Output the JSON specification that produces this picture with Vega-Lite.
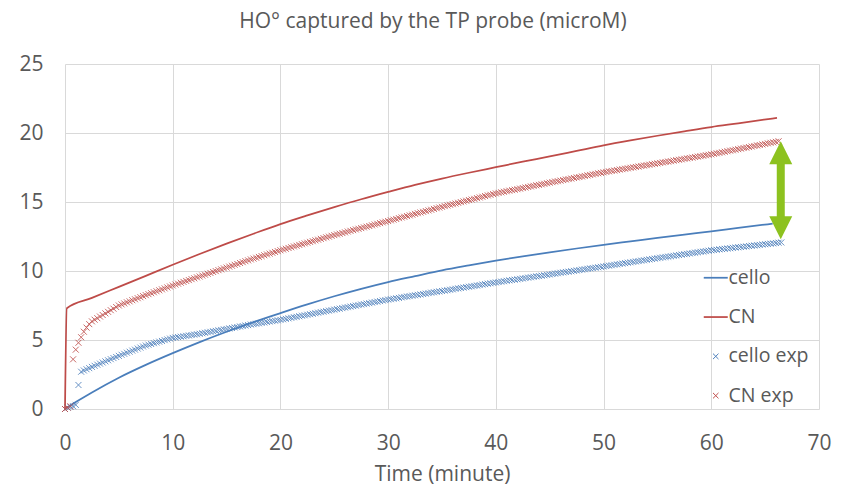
{
"$schema":"https://vega.github.io/schema/vega-lite/v6.json",
"width":754,"height":345,
"autosize":{"type":"none"},
"padding":{"left":65,"top":64,"right":27,"bottom":77},
"background":"white",
"title":{"text":"HO° captured by the TP probe (microM)","font":"Open Sans","fontSize":21,"fontWeight":"normal","color":"#595959","anchor":"middle","dx":-9,"offset":21},
"config":{"view":{"stroke":null},"font":"Open Sans",
"axis":{"domain":false,"ticks":false,"tickSize":0,"gridColor":"#d9d9d9","gridWidth":1,"labelColor":"#595959","labelFont":"Open Sans","labelFontSize":21,"titleFont":"Open Sans","titleFontSize":21,"titleColor":"#595959","titleFontWeight":"normal"}},
"datasets":{
"lines":[
{"t":0,"k":"c","v":0},{"t":1,"k":"c","v":0.5},{"t":2.5,"k":"c","v":1.2},{"t":5,"k":"c","v":2.27},{"t":7.5,"k":"c","v":3.2},{"t":10,"k":"c","v":4.05},{"t":12.5,"k":"c","v":4.85},{"t":15,"k":"c","v":5.6},{"t":17.5,"k":"c","v":6.3},{"t":20,"k":"c","v":6.95},{"t":22.5,"k":"c","v":7.58},{"t":25,"k":"c","v":8.17},{"t":27.5,"k":"c","v":8.71},{"t":30,"k":"c","v":9.2},{"t":32.5,"k":"c","v":9.63},{"t":35,"k":"c","v":10.05},{"t":37.5,"k":"c","v":10.41},{"t":40,"k":"c","v":10.75},{"t":42.5,"k":"c","v":11.06},{"t":45,"k":"c","v":11.35},{"t":47.5,"k":"c","v":11.63},{"t":50,"k":"c","v":11.9},{"t":52.5,"k":"c","v":12.15},{"t":55,"k":"c","v":12.4},{"t":57.5,"k":"c","v":12.64},{"t":60,"k":"c","v":12.87},{"t":62.5,"k":"c","v":13.12},{"t":65.7,"k":"c","v":13.43},
{"t":0,"k":"n","v":0},{"t":0.17,"k":"n","v":7.3},{"t":2.5,"k":"n","v":8.05},{"t":5,"k":"n","v":8.85},{"t":7.5,"k":"n","v":9.65},{"t":10,"k":"n","v":10.45},{"t":12.5,"k":"n","v":11.23},{"t":15,"k":"n","v":11.98},{"t":17.5,"k":"n","v":12.7},{"t":20,"k":"n","v":13.4},{"t":22.5,"k":"n","v":14.03},{"t":25,"k":"n","v":14.63},{"t":27.5,"k":"n","v":15.2},{"t":30,"k":"n","v":15.73},{"t":32.5,"k":"n","v":16.24},{"t":35,"k":"n","v":16.7},{"t":37.5,"k":"n","v":17.12},{"t":40,"k":"n","v":17.52},{"t":42.5,"k":"n","v":17.92},{"t":45,"k":"n","v":18.3},{"t":47.5,"k":"n","v":18.7},{"t":50,"k":"n","v":19.1},{"t":52.5,"k":"n","v":19.46},{"t":55,"k":"n","v":19.8},{"t":57.5,"k":"n","v":20.12},{"t":60,"k":"n","v":20.43},{"t":62.5,"k":"n","v":20.7},{"t":66.1,"k":"n","v":21.1}
],
"exp":[
{"t":0,"a":0,"b":0},{"t":0.25,"a":0.1,"b":0.1},{"t":0.5,"a":0.15,"b":0.2},{"t":0.75,"a":0.2,"b":3.6},{"t":1,"a":0.3,"b":4.3},{"t":1.25,"a":1.74,"b":4.8},{"t":1.5,"a":2.7,"b":5.2},{"t":1.75,"a":2.79,"b":5.6},{"t":2,"a":2.88,"b":5.9},{"t":2.25,"a":2.96,"b":6.15},{"t":2.5,"a":3.05,"b":6.35},{"t":2.75,"a":3.13,"b":6.47},{"t":3,"a":3.21,"b":6.58},{"t":3.25,"a":3.29,"b":6.7},{"t":3.5,"a":3.37,"b":6.81},{"t":3.75,"a":3.45,"b":6.93},{"t":4,"a":3.53,"b":7.04},{"t":4.25,"a":3.61,"b":7.16},{"t":4.5,"a":3.69,"b":7.27},{"t":4.75,"a":3.77,"b":7.39},{"t":5,"a":3.85,"b":7.5},
{"t":5.25,"a":3.93,"b":7.58},{"t":5.5,"a":4.0,"b":7.65},{"t":5.75,"a":4.08,"b":7.73},{"t":6,"a":4.15,"b":7.8},{"t":6.25,"a":4.23,"b":7.88},{"t":6.5,"a":4.3,"b":7.95},{"t":6.75,"a":4.38,"b":8.03},{"t":7,"a":4.45,"b":8.1},{"t":7.25,"a":4.53,"b":8.18},{"t":7.5,"a":4.6,"b":8.25},{"t":7.75,"a":4.66,"b":8.32},{"t":8,"a":4.71,"b":8.39},{"t":8.25,"a":4.77,"b":8.46},{"t":8.5,"a":4.82,"b":8.53},{"t":8.75,"a":4.88,"b":8.6},{"t":9,"a":4.93,"b":8.67},{"t":9.25,"a":4.99,"b":8.74},{"t":9.5,"a":5.04,"b":8.81},{"t":9.75,"a":5.1,"b":8.88},{"t":10,"a":5.15,"b":8.95},
{"t":10.25,"a":5.18,"b":9.02},{"t":10.5,"a":5.21,"b":9.08},{"t":10.75,"a":5.24,"b":9.15},{"t":11,"a":5.27,"b":9.21},{"t":11.25,"a":5.3,"b":9.28},{"t":11.5,"a":5.33,"b":9.34},{"t":11.75,"a":5.36,"b":9.41},{"t":12,"a":5.39,"b":9.47},{"t":12.25,"a":5.42,"b":9.54},{"t":12.5,"a":5.45,"b":9.6},{"t":12.75,"a":5.49,"b":9.67},{"t":13,"a":5.52,"b":9.73},{"t":13.25,"a":5.56,"b":9.8},{"t":13.5,"a":5.59,"b":9.86},{"t":13.75,"a":5.63,"b":9.93},{"t":14,"a":5.66,"b":9.99},{"t":14.25,"a":5.7,"b":10.06},{"t":14.5,"a":5.73,"b":10.12},{"t":14.75,"a":5.77,"b":10.19},{"t":15,"a":5.8,"b":10.25},
{"t":15.25,"a":5.84,"b":10.32},{"t":15.5,"a":5.87,"b":10.38},{"t":15.75,"a":5.91,"b":10.45},{"t":16,"a":5.94,"b":10.51},{"t":16.25,"a":5.98,"b":10.58},{"t":16.5,"a":6.01,"b":10.64},{"t":16.75,"a":6.05,"b":10.71},{"t":17,"a":6.08,"b":10.77},{"t":17.25,"a":6.12,"b":10.84},{"t":17.5,"a":6.15,"b":10.9},{"t":17.75,"a":6.18,"b":10.96},{"t":18,"a":6.21,"b":11.02},{"t":18.25,"a":6.24,"b":11.08},{"t":18.5,"a":6.27,"b":11.14},{"t":18.75,"a":6.31,"b":11.2},{"t":19,"a":6.34,"b":11.26},{"t":19.25,"a":6.37,"b":11.32},{"t":19.5,"a":6.4,"b":11.38},{"t":19.75,"a":6.43,"b":11.44},{"t":20,"a":6.46,"b":11.5},
{"t":20.25,"a":6.5,"b":11.56},{"t":20.5,"a":6.53,"b":11.61},{"t":20.75,"a":6.57,"b":11.67},{"t":21,"a":6.61,"b":11.72},{"t":21.25,"a":6.65,"b":11.78},{"t":21.5,"a":6.68,"b":11.83},{"t":21.75,"a":6.72,"b":11.89},{"t":22,"a":6.76,"b":11.94},{"t":22.25,"a":6.79,"b":12.0},{"t":22.5,"a":6.83,"b":12.05},{"t":22.75,"a":6.87,"b":12.11},{"t":23,"a":6.9,"b":12.16},{"t":23.25,"a":6.94,"b":12.22},{"t":23.5,"a":6.98,"b":12.27},{"t":23.75,"a":7.02,"b":12.33},{"t":24,"a":7.05,"b":12.38},{"t":24.25,"a":7.09,"b":12.44},{"t":24.5,"a":7.13,"b":12.49},{"t":24.75,"a":7.16,"b":12.55},{"t":25,"a":7.2,"b":12.6},
{"t":25.25,"a":7.24,"b":12.65},{"t":25.5,"a":7.27,"b":12.7},{"t":25.75,"a":7.31,"b":12.75},{"t":26,"a":7.35,"b":12.8},{"t":26.25,"a":7.38,"b":12.86},{"t":26.5,"a":7.42,"b":12.91},{"t":26.75,"a":7.46,"b":12.96},{"t":27,"a":7.49,"b":13.01},{"t":27.25,"a":7.53,"b":13.06},{"t":27.5,"a":7.57,"b":13.11},{"t":27.75,"a":7.6,"b":13.16},{"t":28,"a":7.64,"b":13.21},{"t":28.25,"a":7.67,"b":13.26},{"t":28.5,"a":7.71,"b":13.31},{"t":28.75,"a":7.75,"b":13.37},{"t":29,"a":7.78,"b":13.42},{"t":29.25,"a":7.82,"b":13.47},{"t":29.5,"a":7.86,"b":13.52},{"t":29.75,"a":7.89,"b":13.57},{"t":30,"a":7.93,"b":13.62},
{"t":30.25,"a":7.96,"b":13.67},{"t":30.5,"a":7.99,"b":13.72},{"t":30.75,"a":8.02,"b":13.77},{"t":31,"a":8.05,"b":13.83},{"t":31.25,"a":8.09,"b":13.88},{"t":31.5,"a":8.12,"b":13.93},{"t":31.75,"a":8.15,"b":13.98},{"t":32,"a":8.18,"b":14.03},{"t":32.25,"a":8.21,"b":14.08},{"t":32.5,"a":8.24,"b":14.14},{"t":32.75,"a":8.27,"b":14.19},{"t":33,"a":8.3,"b":14.24},{"t":33.25,"a":8.33,"b":14.29},{"t":33.5,"a":8.36,"b":14.34},{"t":33.75,"a":8.4,"b":14.39},{"t":34,"a":8.43,"b":14.44},{"t":34.25,"a":8.46,"b":14.5},{"t":34.5,"a":8.49,"b":14.55},{"t":34.75,"a":8.52,"b":14.6},{"t":35,"a":8.55,"b":14.65},
{"t":35.25,"a":8.58,"b":14.7},{"t":35.5,"a":8.61,"b":14.75},{"t":35.75,"a":8.64,"b":14.8},{"t":36,"a":8.67,"b":14.84},{"t":36.25,"a":8.71,"b":14.89},{"t":36.5,"a":8.74,"b":14.94},{"t":36.75,"a":8.77,"b":14.99},{"t":37,"a":8.8,"b":15.04},{"t":37.25,"a":8.83,"b":15.09},{"t":37.5,"a":8.86,"b":15.14},{"t":37.75,"a":8.89,"b":15.18},{"t":38,"a":8.92,"b":15.23},{"t":38.25,"a":8.95,"b":15.28},{"t":38.5,"a":8.98,"b":15.33},{"t":38.75,"a":9.02,"b":15.38},{"t":39,"a":9.05,"b":15.43},{"t":39.25,"a":9.08,"b":15.48},{"t":39.5,"a":9.11,"b":15.52},{"t":39.75,"a":9.14,"b":15.57},{"t":40,"a":9.17,"b":15.62},
{"t":40.25,"a":9.2,"b":15.66},{"t":40.5,"a":9.23,"b":15.7},{"t":40.75,"a":9.26,"b":15.74},{"t":41,"a":9.29,"b":15.78},{"t":41.25,"a":9.32,"b":15.82},{"t":41.5,"a":9.35,"b":15.86},{"t":41.75,"a":9.37,"b":15.89},{"t":42,"a":9.4,"b":15.93},{"t":42.25,"a":9.43,"b":15.97},{"t":42.5,"a":9.46,"b":16.01},{"t":42.75,"a":9.49,"b":16.05},{"t":43,"a":9.52,"b":16.09},{"t":43.25,"a":9.55,"b":16.13},{"t":43.5,"a":9.58,"b":16.17},{"t":43.75,"a":9.61,"b":16.21},{"t":44,"a":9.63,"b":16.24},{"t":44.25,"a":9.66,"b":16.28},{"t":44.5,"a":9.69,"b":16.32},{"t":44.75,"a":9.72,"b":16.36},{"t":45,"a":9.75,"b":16.4},
{"t":45.25,"a":9.78,"b":16.44},{"t":45.5,"a":9.81,"b":16.48},{"t":45.75,"a":9.84,"b":16.51},{"t":46,"a":9.87,"b":16.55},{"t":46.25,"a":9.9,"b":16.59},{"t":46.5,"a":9.93,"b":16.63},{"t":46.75,"a":9.95,"b":16.66},{"t":47,"a":9.98,"b":16.7},{"t":47.25,"a":10.01,"b":16.74},{"t":47.5,"a":10.04,"b":16.78},{"t":47.75,"a":10.07,"b":16.81},{"t":48,"a":10.1,"b":16.85},{"t":48.25,"a":10.13,"b":16.89},{"t":48.5,"a":10.16,"b":16.93},{"t":48.75,"a":10.19,"b":16.96},{"t":49,"a":10.21,"b":17.0},{"t":49.25,"a":10.24,"b":17.04},{"t":49.5,"a":10.27,"b":17.08},{"t":49.75,"a":10.3,"b":17.11},{"t":50,"a":10.33,"b":17.15},
{"t":50.25,"a":10.36,"b":17.18},{"t":50.5,"a":10.39,"b":17.22},{"t":50.75,"a":10.42,"b":17.25},{"t":51,"a":10.45,"b":17.28},{"t":51.25,"a":10.48,"b":17.31},{"t":51.5,"a":10.51,"b":17.35},{"t":51.75,"a":10.54,"b":17.38},{"t":52,"a":10.57,"b":17.41},{"t":52.25,"a":10.6,"b":17.44},{"t":52.5,"a":10.63,"b":17.48},{"t":52.75,"a":10.66,"b":17.51},{"t":53,"a":10.69,"b":17.54},{"t":53.25,"a":10.72,"b":17.57},{"t":53.5,"a":10.75,"b":17.61},{"t":53.75,"a":10.78,"b":17.64},{"t":54,"a":10.81,"b":17.67},{"t":54.25,"a":10.84,"b":17.7},{"t":54.5,"a":10.87,"b":17.74},{"t":54.75,"a":10.9,"b":17.77},{"t":55,"a":10.93,"b":17.8},
{"t":55.25,"a":10.96,"b":17.83},{"t":55.5,"a":10.99,"b":17.87},{"t":55.75,"a":11.02,"b":17.9},{"t":56,"a":11.04,"b":17.93},{"t":56.25,"a":11.07,"b":17.96},{"t":56.5,"a":11.1,"b":18.0},{"t":56.75,"a":11.13,"b":18.03},{"t":57,"a":11.16,"b":18.06},{"t":57.25,"a":11.19,"b":18.09},{"t":57.5,"a":11.22,"b":18.13},{"t":57.75,"a":11.24,"b":18.16},{"t":58,"a":11.27,"b":18.19},{"t":58.25,"a":11.3,"b":18.22},{"t":58.5,"a":11.33,"b":18.26},{"t":58.75,"a":11.36,"b":18.29},{"t":59,"a":11.39,"b":18.32},{"t":59.25,"a":11.41,"b":18.35},{"t":59.5,"a":11.44,"b":18.39},{"t":59.75,"a":11.47,"b":18.42},{"t":60,"a":11.5,"b":18.45},
{"t":60.25,"a":11.52,"b":18.49},{"t":60.5,"a":11.54,"b":18.53},{"t":60.75,"a":11.57,"b":18.56},{"t":61,"a":11.59,"b":18.6},{"t":61.25,"a":11.61,"b":18.64},{"t":61.5,"a":11.63,"b":18.68},{"t":61.75,"a":11.65,"b":18.72},{"t":62,"a":11.68,"b":18.75},{"t":62.25,"a":11.7,"b":18.79},{"t":62.5,"a":11.72,"b":18.83},{"t":62.75,"a":11.74,"b":18.87},{"t":63,"a":11.76,"b":18.91},{"t":63.25,"a":11.78,"b":18.94},{"t":63.5,"a":11.81,"b":18.98},{"t":63.75,"a":11.83,"b":19.02},{"t":64,"a":11.85,"b":19.06},{"t":64.25,"a":11.87,"b":19.1},{"t":64.5,"a":11.89,"b":19.13},{"t":64.75,"a":11.92,"b":19.17},{"t":65,"a":11.94,"b":19.21},
{"t":65.25,"a":11.96,"b":19.25},{"t":65.5,"a":11.98,"b":19.29},{"t":65.75,"a":12.0,"b":19.32},{"t":66,"a":12.03,"b":19.36},{"t":66.25,"a":12.05,"b":19.4},{"t":66.5,"a":12.07}
],
"shaft":[{"t":66.45,"v1":17.9,"v2":13.8}],
"heads":[{"t":66.45,"v":19.4,"p":"up"},{"t":66.45,"v":12.3,"p":"down"}]
},
"layer":[
{"data":{"name":"lines"},
 "mark":{"type":"line","strokeWidth":1.75,"interpolate":"monotone"},
 "encoding":{
  "x":{"field":"t","type":"quantitative","scale":{"domain":[0,70],"nice":false},"axis":{"title":"Time (minute)","values":[0,10,20,30,40,50,60,70],"labelPadding":23,"titlePadding":10,"labelFlush":false}},
  "y":{"field":"v","type":"quantitative","scale":{"domain":[0,25],"nice":false},"axis":{"title":null,"values":[0,5,10,15,20,25],"labelPadding":22}},
  "color":{"field":"k","type":"nominal","scale":{"domain":["c","n","a","b"],"range":["#4A7EBB","#BE4B48","#4F81BD","#C0504D"]},
   "legend":{"orient":"none","legendX":641,"legendY":204,"title":null,"padding":0,"labelFont":"Open Sans","labelFontSize":19.5,"labelColor":"#595959","labelOffset":3,"rowPadding":18.3,"symbolSize":576,"symbolType":"stroke",
    "labelExpr":"datum.label == 'c' ? 'cello' : datum.label == 'n' ? 'CN' : datum.label == 'a' ? 'cello exp' : 'CN exp'",
    "encode":{"symbols":{"update":{
      "shape":{"signal":"(datum.value == 'c' || datum.value == 'n') ? 'stroke' : 'M-1,-1L1,1M-1,1L1,-1'"},
      "size":{"signal":"(datum.value == 'c' || datum.value == 'n') ? 576 : 30"},
      "strokeWidth":{"signal":"(datum.value == 'c' || datum.value == 'n') ? 1.75 : 1"},
      "stroke":{"signal":"scale('color', datum.value)"},
      "fill":{"value":"transparent"},
      "opacity":{"value":1}}}}}},
  "detail":{"field":"k"}
 }},
{"data":{"name":"exp"},
 "transform":[{"fold":["a","b"],"as":["k","v"]}],
 "mark":{"type":"point","shape":"M-1,-1L1,1M-1,1L1,-1","filled":false,"size":36,"strokeWidth":1,"opacity":0.85},
 "encoding":{
  "x":{"field":"t","type":"quantitative"},
  "y":{"field":"v","type":"quantitative"},
  "color":{"field":"k","type":"nominal"}
 }},
{"data":{"name":"shaft"},
 "mark":{"type":"rule","color":"#8DC21F","strokeWidth":8},
 "encoding":{"x":{"field":"t","type":"quantitative"},"y":{"field":"v1","type":"quantitative"},"y2":{"field":"v2"}}},
{"data":{"name":"heads"},
 "mark":{"type":"point","filled":true,"opacity":1,"size":529,"color":"#8DC21F"},
 "encoding":{"x":{"field":"t","type":"quantitative"},"y":{"field":"v","type":"quantitative"},
  "shape":{"field":"p","type":"nominal","scale":{"domain":["up","down"],"range":["M0,0L1,2L-1,2Z","M0,0L1,-2L-1,-2Z"]},"legend":null}}}
]
}
